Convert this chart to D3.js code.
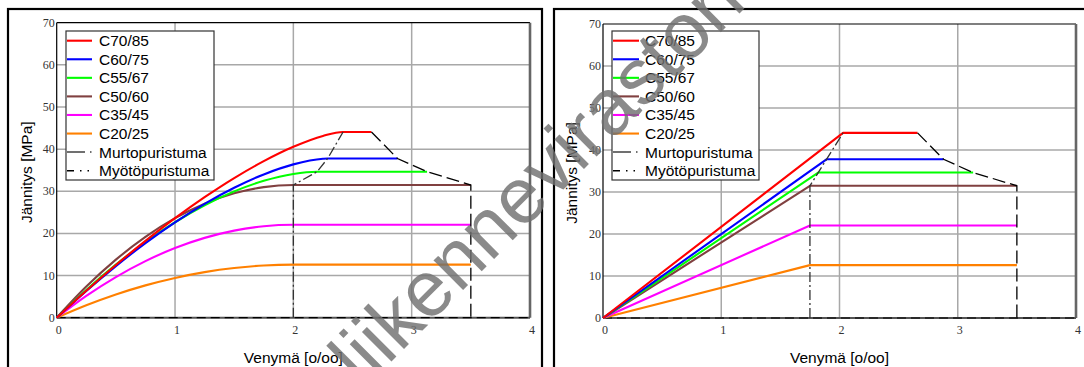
<!DOCTYPE html>
<html>
<head>
<meta charset="utf-8">
<script src="https://cdn.jsdelivr.net/npm/d3@7"></script>
<style>
  body { margin: 0; background: #fff; }
  svg { display: block; }
</style>
</head>
<body>
<svg id="chart" width="1084" height="367"></svg>
<script>
// Concrete grades and their design values (strain in per mille, stress in MPa)
const grades = ["C70/85", "C60/75", "C55/67", "C50/60", "C35/45", "C20/25"];
const gradeColors = ["#ff0000", "#0000ff", "#00ff00", "#804040", "#ff00ff", "#ff8000"];
const fcd = [44.07, 37.78, 34.63, 31.48, 22.04, 12.59];
const epsC2 = [2.42, 2.29, 2.2, 2.0, 2.0, 2.0];     // end of parabola
const epsCu2 = [2.66, 2.88, 3.13, 3.5, 3.5, 3.5];   // ultimate strain
const epsC3 = [2.03, 1.89, 1.82, 1.75, 1.75, 1.75]; // end of linear branch

// Rising (parabolic) branch, sampled at these strains
const strainSteps = [0, 0.25, 0.5, 0.75, 1.0, 1.25, 1.5, 1.75, 2.0, 2.25];
const riseC70 = [0, 6.40, 12.49, 18.24, 23.62, 28.60, 33.14, 37.15, 40.55, 43.13];
const riseC60 = [0, 6.35, 12.25, 17.69, 22.63, 27.03, 30.84, 34.00, 36.38, 37.72];
const riseC55 = [0, 6.59, 12.58, 17.94, 22.65, 26.67, 29.97, 32.48, 34.11, null];
const riseC50 = [0, 7.38, 13.77, 19.18, 23.61, 27.05, 29.51, 30.99, 31.48, null];
const riseC35 = [0, 5.17, 9.64, 13.43, 16.53, 18.94, 20.66, 21.70, 22.04, null];
const riseC20 = [0, 2.95, 5.51, 7.67, 9.44, 10.82, 11.80, 12.39, 12.59, null];
const rises = [riseC70, riseC60, riseC55, riseC50, riseC35, riseC20];

const xTicks = [0, 1, 2, 3, 4];
const yTicks = [0, 10, 20, 30, 40, 50, 60, 70];
const limitNames = ["Murtopuristuma", "Myötöpuristuma"];
const xTitle = "Venymä [o/oo]";
const yTitle = "Jännitys [MPa]";
const watermark = "liikenneviraston ohjeita";

const SANS = "'Liberation Sans', Arial, sans-serif";
const SERIF = "'Liberation Serif', 'Times New Roman', serif";

const svg = d3.select("#chart");

// Stress-strain point lists
function parabolaSeries(i) {
  const pts = [];
  strainSteps.forEach((e, k) => {
    if (rises[i][k] !== null && e < epsC2[i] - 1e-9) pts.push([e, rises[i][k]]);
  });
  pts.push([epsC2[i], fcd[i]]);
  pts.push([epsCu2[i], fcd[i]]);
  return pts;
}
function bilinearSeries(i) {
  return [[0, 0], [epsC3[i], fcd[i]], [epsCu2[i], fcd[i]]];
}
// Limit-strain traces run from C50/60 upward through the higher grades
const limitOrder = [3, 2, 1, 0];
function yieldTrace(epsArr) {
  const pts = [[epsArr[3], 0]];
  limitOrder.forEach(i => pts.push([epsArr[i], fcd[i]]));
  return pts;
}
function ultimateTrace() {
  const pts = limitOrder.slice().reverse().map(i => [epsCu2[i], fcd[i]]);
  pts.push([epsCu2[3], 0]);
  return pts;
}

const panels = [
  {
    frame: [8, 9, 542], plot: { l: 56.7, r: 530, t: 22.7, b: 317.7 },
    legend: { x: 66, y: 31, w: 148, h: 149, l1: 67, l2: 92, tx: 99 },
    yTitleX: 26, series: grades.map((g, i) => parabolaSeries(i)),
    yieldPts: yieldTrace(epsC2), curve: d3.curveMonotoneX
  },
  {
    frame: [554, 9, 1100], plot: { l: 603, r: 1076, t: 24, b: 318 },
    legend: { x: 612, y: 31, w: 147, h: 149, l1: 613, l2: 639, tx: 645 },
    yTitleX: 571, series: grades.map((g, i) => bilinearSeries(i)),
    yieldPts: yieldTrace(epsC3), curve: d3.curveLinear
  }
];

panels.forEach(p => {
  const g = svg.append("g");
  const x = d3.scaleLinear().domain([0, 4]).range([p.plot.l, p.plot.r]);
  const y = d3.scaleLinear().domain([0, 70]).range([p.plot.b, p.plot.t]);

  // outer frame
  g.append("rect")
    .attr("x", p.frame[0]).attr("y", p.frame[1])
    .attr("width", p.frame[2] - p.frame[0]).attr("height", 420)
    .attr("fill", "none").attr("stroke", "#000").attr("stroke-width", 2.2);

  // grid
  g.append("g").selectAll("line").data(xTicks.slice(1, -1)).join("line")
    .attr("x1", d => x(d)).attr("x2", d => x(d))
    .attr("y1", y(0)).attr("y2", y(70))
    .attr("stroke", "#a8a8a8").attr("stroke-width", 1.5);
  g.append("g").selectAll("line").data(yTicks.slice(1, -1)).join("line")
    .attr("x1", x(0)).attr("x2", x(4))
    .attr("y1", d => y(d)).attr("y2", d => y(d))
    .attr("stroke", "#a8a8a8").attr("stroke-width", 1.5);

  // plot frame
  g.append("line").attr("x1", x(0)).attr("x2", x(4)).attr("y1", y(70)).attr("y2", y(70))
    .attr("stroke", "#000").attr("stroke-width", 1.2);
  g.append("line").attr("x1", x(4)).attr("x2", x(4)).attr("y1", y(70)).attr("y2", y(0))
    .attr("stroke", "#666").attr("stroke-width", 2.6);
  g.append("line").attr("x1", x(0)).attr("x2", x(4)).attr("y1", y(0)).attr("y2", y(0))
    .attr("stroke", "#555").attr("stroke-width", 2);
  g.append("line").attr("x1", x(0)).attr("x2", x(4)).attr("y1", y(0)).attr("y2", y(0))
    .attr("stroke", "#000").attr("stroke-width", 1.2).attr("stroke-dasharray", "9,5");
  g.append("line").attr("x1", x(0)).attr("x2", x(0)).attr("y1", y(70)).attr("y2", y(0))
    .attr("stroke", "#000").attr("stroke-width", 1.2);

  // stress-strain curves
  const line = d3.line().x(d => x(d[0])).y(d => y(d[1])).curve(p.curve);
  g.append("g").selectAll("path").data(p.series.slice().reverse()).join("path")
    .attr("d", line)
    .attr("fill", "none")
    .attr("stroke", (d, k) => gradeColors[grades.length - 1 - k])
    .attr("stroke-width", 2.1)
    .attr("stroke-linejoin", "round");

  // limit strain traces
  const straight = d3.line().x(d => x(d[0])).y(d => y(d[1]));
  g.append("path").attr("d", straight(p.yieldPts))
    .attr("fill", "none").attr("stroke", "#333").attr("stroke-width", 1.3)
    .attr("stroke-dasharray", "10,3,2,3");
  g.append("path").attr("d", straight(ultimateTrace()))
    .attr("fill", "none").attr("stroke", "#000").attr("stroke-width", 1.3)
    .attr("stroke-dasharray", "13,5");

  // tick labels
  g.append("g").selectAll("text").data(yTicks).join("text")
    .attr("x", x(0) - 2).attr("y", d => y(d) + 4)
    .attr("text-anchor", "end")
    .attr("font-family", SERIF).attr("font-size", 12).attr("fill", "#333")
    .text(d => d);
  g.append("g").selectAll("text").data(xTicks).join("text")
    .attr("x", d => x(d) + 2).attr("y", y(0) + 16)
    .attr("text-anchor", "middle")
    .attr("font-family", SERIF).attr("font-size", 12).attr("fill", "#333")
    .text(d => d);

  // axis titles
  g.append("text")
    .attr("transform", `translate(${p.yTitleX},${(y(0) + y(70)) / 2 + 2}) rotate(-90)`)
    .attr("text-anchor", "middle").attr("dominant-baseline", "central")
    .attr("font-family", SANS).attr("font-size", 15.5).attr("fill", "#000")
    .text(yTitle);
  g.append("text")
    .attr("x", (x(0) + x(4)) / 2).attr("y", 363)
    .attr("text-anchor", "middle")
    .attr("font-family", SANS).attr("font-size", 15.5).attr("fill", "#000")
    .text(xTitle);

  // legend
  const L = p.legend;
  const lg = g.append("g");
  lg.append("rect").attr("x", L.x).attr("y", L.y).attr("width", L.w).attr("height", L.h)
    .attr("fill", "#fff").attr("stroke", "#333").attr("stroke-width", 1.2);
  const rowY = k => L.y + 9.7 + k * 18.57;
  const entries = grades.map((g2, i) => ({ name: g2, color: gradeColors[i], dash: null, w: 2.1 }))
    .concat([
      { name: limitNames[0], color: "#707070", dash: "18,5,1.5,20", w: 2 },
      { name: limitNames[1], color: "#000", dash: "7,6,1.5,6,1.5,20", w: 1.4 }
    ]);
  entries.forEach((e, k) => {
    lg.append("line").attr("x1", L.l1).attr("x2", L.l2)
      .attr("y1", rowY(k)).attr("y2", rowY(k))
      .attr("stroke", e.color).attr("stroke-width", e.w)
      .attr("stroke-dasharray", e.dash);
    lg.append("text").attr("x", L.tx).attr("y", rowY(k))
      .attr("dominant-baseline", "central")
      .attr("font-family", SANS).attr("font-size", 15.5).attr("fill", "#000")
      .text(e.name);
  });
});

// diagonal watermark
svg.append("text")
  .attr("transform", "translate(363,390) rotate(-45)")
  .attr("font-family", SANS).attr("font-size", 79)
  .attr("fill", "#707070").attr("fill-opacity", 0.82)
  .text(watermark);
</script>
</body>
</html>
